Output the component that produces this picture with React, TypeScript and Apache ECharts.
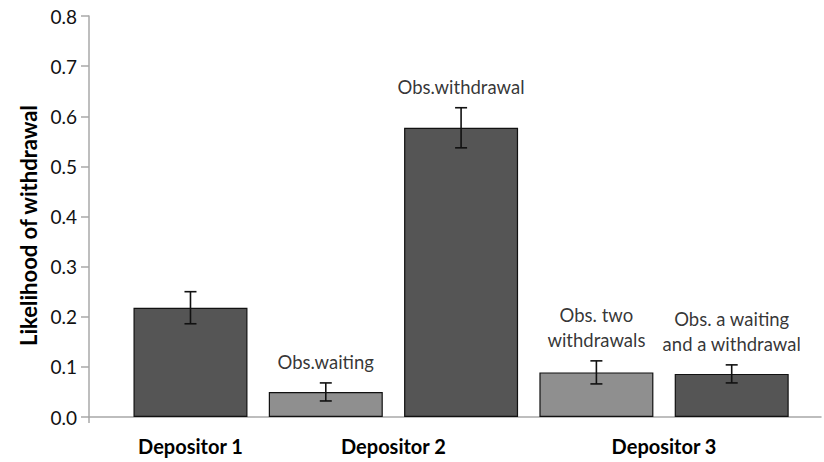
import React, { useEffect, useRef } from "react";
import * as echarts from "echarts";

const groupLabels = ["Depositor 1", "Depositor 2", "Depositor 3"];
const groupPositions = [1, 2.5, 4.5];
const barPositions = [1, 2, 3, 4, 5];
const barNames = ["", "Obs.waiting", "Obs.withdrawal", "Obs. two\nwithdrawals", "Obs. a waiting\nand a withdrawal"];
const barValues = [0.218, 0.05, 0.577, 0.089, 0.086];
const barErrors = [0.032, 0.018, 0.04, 0.023, 0.018];
const barShades = ["dark", "light", "dark", "light", "dark"];
const yTicks = [0, 0.1, 0.2, 0.3, 0.4, 0.5, 0.6, 0.7, 0.8];

const FONT = "Lato, 'Open Sans', sans-serif";
const DARK = "#555555";
const LIGHT = "#8f8f8f";

export default function App() {
  const ref = useRef<HTMLDivElement>(null);
  useEffect(() => {
    if (!ref.current) return;
    const chart = echarts.init(ref.current, null, { renderer: "svg" });
    const option: any = {
      animation: false,
      backgroundColor: "#ffffff",
      grid: { left: 89, right: 3, top: 16, bottom: 45, containLabel: false },
      xAxis: {
        type: "value",
        min: 0.25,
        max: 5.66,
        splitLine: { show: false },
        axisLine: { show: true, lineStyle: { color: "#a8a8a8", width: 1.5 } },
        axisTick: { show: true, customValues: [0.25], length: 6, inside: false, lineStyle: { color: "#a8a8a8", width: 1.5 } },
        axisLabel: {
          customValues: groupPositions,
          formatter: (v: number) => {
            const i = groupPositions.findIndex((p) => Math.abs(p - v) < 1e-6);
            return i >= 0 ? groupLabels[i] : "";
          },
          margin: 19,
          fontFamily: FONT,
          fontWeight: "bold",
          fontSize: 20,
          lineHeight: 20,
          color: "#000",
        },
      },
      yAxis: {
        type: "value",
        min: 0,
        max: 0.8,
        interval: 0.1,
        name: "Likelihood of withdrawal",
        nameLocation: "middle",
        nameGap: 50,
        nameTextStyle: { fontFamily: FONT, fontWeight: "bold", fontSize: 22, color: "#000", padding: [0, 18, 0, 0] },
        splitLine: { show: false },
        axisLine: { show: true, lineStyle: { color: "#a8a8a8", width: 1.5 } },
        axisTick: { show: true, length: 8, lineStyle: { color: "#a8a8a8", width: 1.5 } },
        axisLabel: {
          formatter: (v: number) => {
            const t = yTicks.find((x) => Math.abs(x - v) < 1e-6);
            return t !== undefined ? t.toFixed(1) : "";
          },
          margin: 12,
          fontFamily: FONT,
          fontSize: 19,
          color: "#111",
        },
      },
      series: [
        {
          type: "bar",
          barWidth: 114,
          data: barPositions.map((x, i) => ({
            value: [x, barValues[i]],
            itemStyle: {
              color: barShades[i] === "dark" ? DARK : LIGHT,
              borderColor: "#111",
              borderWidth: 1.2,
            },
          })),
        },
        {
          type: "custom",
          data: barPositions.map((x, i) => [x, barValues[i] - barErrors[i], barValues[i] + barErrors[i]]),
          renderItem: (params: any, api: any) => {
            const x = api.value(0);
            const lo = api.coord([x, api.value(1)]);
            const hi = api.coord([x, api.value(2)]);
            const hw = 6;
            const style = { stroke: "#111", lineWidth: 1.6 };
            return {
              type: "group",
              children: [
                { type: "line", shape: { x1: lo[0], y1: lo[1], x2: hi[0], y2: hi[1] }, style },
                { type: "line", shape: { x1: lo[0] - hw, y1: lo[1], x2: lo[0] + hw, y2: lo[1] }, style },
                { type: "line", shape: { x1: hi[0] - hw, y1: hi[1], x2: hi[0] + hw, y2: hi[1] }, style },
              ],
            };
          },
          z: 5,
        },
        {
          type: "scatter",
          symbolSize: 0,
          data: barPositions.map((x, i) => ({ value: [x, barValues[i] + barErrors[i]], name: barNames[i] })),
          label: {
            show: true,
            position: "top",
            distance: 8,
            formatter: (p: any) => p.name,
            fontFamily: FONT,
            fontSize: 18.5,
            lineHeight: 25,
            color: "#000",
          },
          silent: true,
        },
      ],
    };
    chart.setOption(option);
    return () => chart.dispose();
  }, []);
  return <div ref={ref} style={{ position: "absolute", left: 0, top: 0, width: 824, height: 462 }} />;
}
